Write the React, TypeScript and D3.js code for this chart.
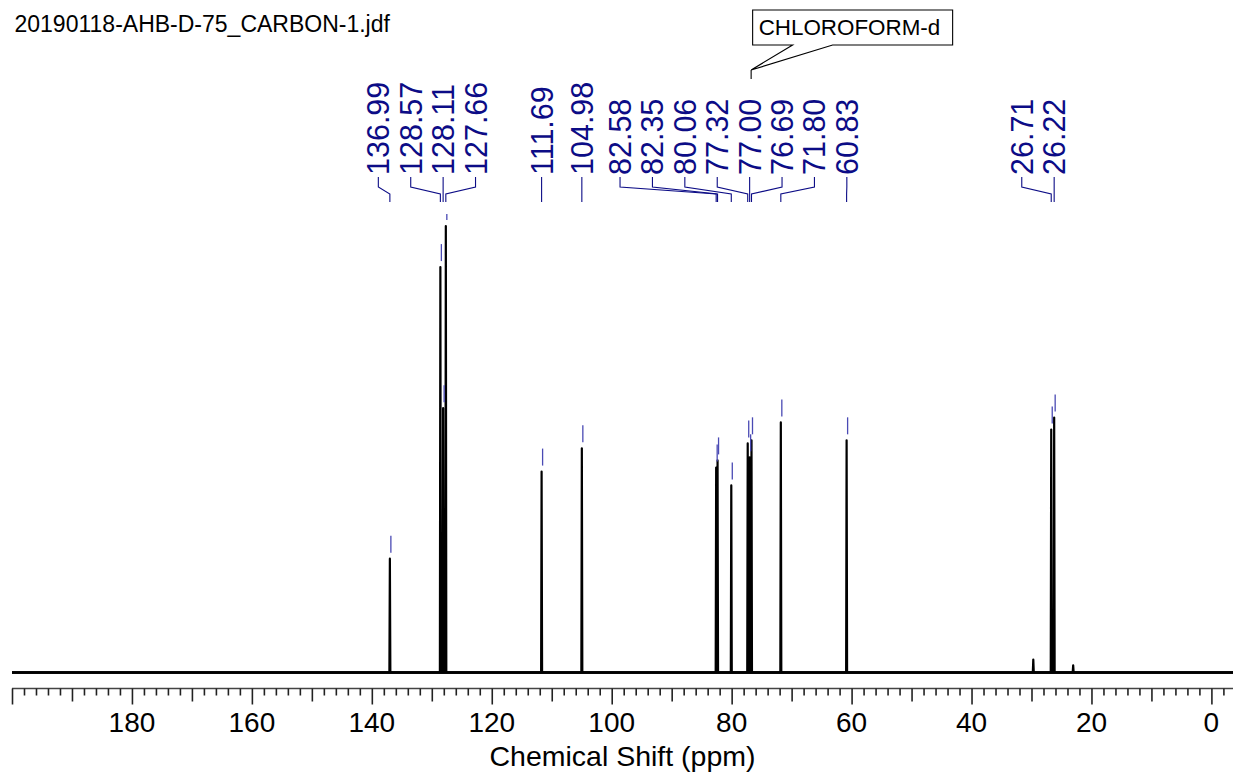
import React, { useRef, useEffect } from "react";
import * as d3 from "d3";

const fileTitle = "20190118-AHB-D-75_CARBON-1.jdf";
const axisTitle = "Chemical Shift (ppm)";
const solventName = "CHLOROFORM-d";
const solventShift = 77.0;

// lines in the spectrum (ppm) and their heights (tallest = 100)
const peakShifts = [
  136.99, 128.57, 128.11, 127.66, 111.69, 104.98, 82.58, 82.35, 80.06, 77.32,
  77.0, 76.69, 71.8, 60.83, 29.7, 26.71, 26.22, 23.05,
];
const peakHeights = [
  25.5, 90.8, 59.2, 100, 45.0, 50.2, 45.9, 47.5, 41.9, 51.3, 48.2, 52.0, 56.0,
  52.0, 2.9, 54.4, 57.1, 1.6,
];

// picked peaks that carry a label
const labelShifts = [
  136.99, 128.57, 128.11, 127.66, 111.69, 104.98, 82.58, 82.35, 80.06, 77.32,
  77.0, 76.69, 71.8, 60.83, 26.71, 26.22,
];

const tickLabels = [180, 160, 140, 120, 100, 80, 60, 40, 20, 0];
const ppmRange = [200, -3.6];

const FONT = "'Liberation Sans', Arial, Helvetica, sans-serif";
const NAVY = "#0c0c86";

// spread labels so they don't overlap: clusters sit at the lower median
function spreadLabels(xs: number[], gap: number): number[] {
  let clusters = xs.map((v, i) => ({ start: i, end: i, c: v }));
  const place = (cl: { start: number; end: number; c: number }) => {
    const d = d3
      .range(cl.start, cl.end + 1)
      .map((i) => xs[i] - gap * (i - cl.start))
      .sort((a, b) => a - b);
    cl.c = d[Math.floor((d.length - 1) / 2)];
  };
  let merged = true;
  while (merged) {
    merged = false;
    for (let k = 0; k < clusters.length - 1; k++) {
      const a = clusters[k];
      const b = clusters[k + 1];
      const aEnd = a.c + gap * (a.end - a.start);
      if (aEnd + gap > b.c) {
        const m = { start: a.start, end: b.end, c: 0 };
        place(m);
        clusters.splice(k, 2, m);
        merged = true;
        break;
      }
    }
  }
  const out: number[] = [];
  clusters.forEach((cl) => {
    for (let i = cl.start; i <= cl.end; i++) out.push(cl.c + gap * (i - cl.start));
  });
  return out;
}

const Spectrum = () => {
  const svgRef = useRef<SVGSVGElement>(null);
  const width = 1233;
  const height = 773;

  useEffect(() => {
    if (!svgRef.current) return;
    const svg = d3.select(svgRef.current);
    svg.selectAll("*").remove();

    const x = d3.scaleLinear().domain(ppmRange).range([12, 1233]);
    const y = d3.scaleLinear().domain([0, 100]).range([672.5, 226]);
    const axisY = 688.5;

    // title
    svg
      .append("text")
      .attr("x", 14.5)
      .attr("y", 31.5)
      .attr("font-family", FONT)
      .attr("font-size", 23)
      .attr("fill", "#000")
      .text(fileTitle);

    // spectrum trace
    const pts: [number, number][] = [[ppmRange[0], 0]];
    peakShifts
      .map((p, i) => [p, peakHeights[i]])
      .sort((a, b) => b[0] - a[0])
      .forEach(([p, h]) => {
        pts.push([p + 0.08, 0], [p, h], [p - 0.08, 0]);
      });
    pts.push([ppmRange[1], 0]);

    svg
      .append("line")
      .attr("x1", x(ppmRange[0]))
      .attr("x2", x(ppmRange[1]))
      .attr("y1", y(0))
      .attr("y2", y(0))
      .attr("stroke", "#111")
      .attr("stroke-width", 3.2);

    svg
      .append("path")
      .datum(pts)
      .attr("fill", "none")
      .attr("stroke", "#000")
      .attr("stroke-width", 2.2)
      .attr("stroke-linejoin", "round")
      .attr(
        "d",
        d3
          .line<[number, number]>()
          .x((d) => x(d[0]))
          .y((d) => y(d[1]))
      );

    // x axis
    const axisG = svg.append("g").attr("transform", `translate(0,${axisY})`);
    axisG
      .append("line")
      .attr("x1", x(ppmRange[0]))
      .attr("x2", x(ppmRange[1]))
      .attr("stroke", "#444")
      .attr("stroke-width", 1.5);

    const allTicks = d3.range(200, -3, -2);
    const minor = allTicks.filter((t) => t % 10 !== 0);
    const medium = allTicks.filter((t) => t % 10 === 0 && t % 20 !== 0);
    const major = allTicks.filter((t) => t % 20 === 0);

    const tickLayer = (vals: number[], size: number) => {
      const g = axisG
        .append("g")
        .call(
          d3
            .axisBottom(x)
            .tickValues(vals)
            .tickSize(size)
            .tickFormat(() => "")
        );
      g.select(".domain").remove();
      g.selectAll("line").attr("stroke", "#222").attr("stroke-width", 1.6);
      return g;
    };
    tickLayer(minor, 7);
    tickLayer(medium, 13);
    tickLayer(major, 16);

    axisG
      .append("g")
      .selectAll("text")
      .data(tickLabels)
      .join("text")
      .attr("x", (d) => x(d))
      .attr("y", 43)
      .attr("text-anchor", "middle")
      .attr("font-family", FONT)
      .attr("font-size", 28)
      .attr("fill", "#000")
      .text((d) => d);

    svg
      .append("text")
      .attr("x", (x(ppmRange[0]) + x(ppmRange[1])) / 2)
      .attr("y", 766)
      .attr("text-anchor", "middle")
      .attr("font-family", FONT)
      .attr("font-size", 28.5)
      .attr("fill", "#000")
      .text(axisTitle);

    // peak labels
    const fmt = d3.format(".2f");
    const peaks = labelShifts
      .map((p) => ({ p, px: x(p), h: peakHeights[peakShifts.indexOf(p)] }))
      .sort((a, b) => a.px - b.px);
    const lx = spreadLabels(
      peaks.map((d) => d.px),
      32.4
    );
    peaks.forEach((d, i) => ((d as any).lx = lx[i]));

    const labelFs = 30.5;
    const labG = svg.append("g");
    labG
      .selectAll("text")
      .data(peaks)
      .join("text")
      .attr(
        "transform",
        (d: any) => `translate(${d.lx + 0.36 * labelFs},175) rotate(-90)`
      )
      .attr("font-family", FONT)
      .attr("font-size", labelFs)
      .attr("fill", NAVY)
      .text((d) => fmt(d.p));

    labG
      .selectAll("path")
      .data(peaks)
      .join("path")
      .attr("fill", "none")
      .attr("stroke", NAVY)
      .attr("stroke-width", 1.1)
      .attr(
        "d",
        (d: any) =>
          `M${d.lx},177 L${d.lx},187 L${d.px},194 L${d.px},202`
      );

    // short markers above each picked peak
    labG
      .append("g")
      .selectAll("line")
      .data(peaks)
      .join("line")
      .attr("x1", (d) => d.px + 1)
      .attr("x2", (d) => d.px + 1)
      .attr("y1", (d) => Math.max(y(d.h) - 23, 214))
      .attr("y2", (d) => y(d.h) - 6)
      .attr("stroke", "#4a4ab4")
      .attr("stroke-width", 1.3);

    // solvent callout
    const solv: any = peaks.find((d) => d.p === solventShift);
    const tipX = solv.lx + 1.5;
    const bx = tipX + 1.5;
    const bw = 200;
    const by = 10;
    const bh = 35;
    svg
      .append("path")
      .attr("fill", "#fff")
      .attr("stroke", "#000")
      .attr("stroke-width", 1.1)
      .attr(
        "d",
        `M${bx},${by} H${bx + bw} V${by + bh} H${bx + 80} L${tipX},70 L${bx + 40},${by + bh} H${bx} Z`
      );
    svg
      .append("line")
      .attr("x1", tipX)
      .attr("x2", tipX)
      .attr("y1", 70)
      .attr("y2", 79)
      .attr("stroke", "#000")
      .attr("stroke-width", 1.1);
    svg
      .append("text")
      .attr("x", bx + 6)
      .attr("y", 34.5)
      .attr("font-family", FONT)
      .attr("font-size", 22.4)
      .attr("fill", "#000")
      .text(solventName);
  }, []);

  return (
    <svg
      ref={svgRef}
      width={width}
      height={height}
      style={{ position: "absolute", left: 0, top: 0, background: "#fff" }}
    />
  );
};

export default function App() {
  return <Spectrum />;
}
